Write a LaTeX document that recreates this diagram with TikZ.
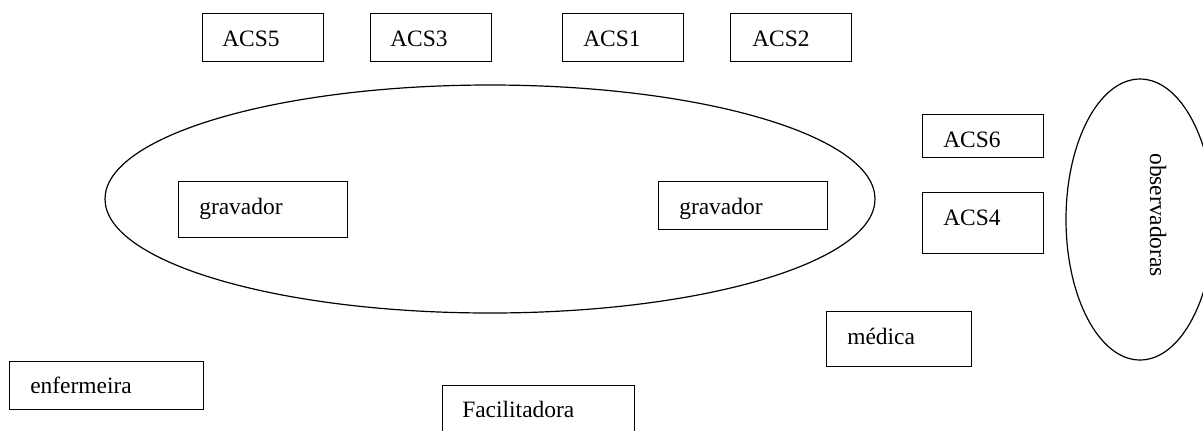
\documentclass[tikz,border=0pt]{standalone}
\usepackage{fontspec}
\setmainfont{Liberation Serif}
\usetikzlibrary{shapes.geometric}
\tikzset{
  box/.style={draw, line width=0.9pt, inner sep=0pt, anchor=north west},
  lbl/.style={anchor=base west, inner sep=0pt, font=\fontsize{17.6}{20}\selectfont},
  oval/.style={draw, ellipse, line width=0.9pt, inner sep=0pt}
}
\begin{document}
\begin{tikzpicture}[x=0.75pt, y=-0.75pt]
\useasboundingbox (0,0) rectangle (1203,430);
\clip (0,0) rectangle (1203,430);
% ellipses
\node[oval, minimum width=770*0.75pt, minimum height=228*0.75pt] (mesa) at (490,199) {};
\node[oval, minimum width=148*0.75pt, minimum height=281*0.75pt] (obs) at (1140,219.5) {};
\node[lbl, rotate=-90] (obst) at (1150,153) {observadoras};
% top row
\node[box, minimum width=121*0.75pt, minimum height=48*0.75pt] (acs5) at (202,13) {};
\node[lbl] (acs5t) at (222,46) {ACS5};
\node[box, minimum width=121*0.75pt, minimum height=48*0.75pt] (acs3) at (370,13) {};
\node[lbl] (acs3t) at (390,46) {ACS3};
\node[box, minimum width=121*0.75pt, minimum height=48*0.75pt] (acs1) at (562,13) {};
\node[lbl] (acs1t) at (583,46) {ACS1};
\node[box, minimum width=121*0.75pt, minimum height=48*0.75pt] (acs2) at (730,13) {};
\node[lbl] (acs2t) at (752,46) {ACS2};
% right column
\node[box, minimum width=121*0.75pt, minimum height=43*0.75pt] (acs6) at (922,114) {};
\node[lbl] (acs6t) at (943,147) {ACS6};
\node[box, minimum width=121*0.75pt, minimum height=61*0.75pt] (acs4) at (922,192) {};
\node[lbl] (acs4t) at (943,225) {ACS4};
% recorders
\node[box, minimum width=169*0.75pt, minimum height=56*0.75pt] (grav1) at (178,181) {};
\node[lbl] (grav1t) at (199,214) {gravador};
\node[box, minimum width=169*0.75pt, minimum height=48*0.75pt] (grav2) at (658,181) {};
\node[lbl] (grav2t) at (679,214) {gravador};
% bottom
\node[box, minimum width=145*0.75pt, minimum height=55*0.75pt] (medica) at (826,311) {};
\node[lbl] (medicat) at (847,344) {médica};
\node[box, minimum width=194*0.75pt, minimum height=48*0.75pt] (enf) at (9,361) {};
\node[lbl] (enft) at (30,393) {enfermeira};
\node[box, minimum width=192*0.75pt, minimum height=60*0.75pt] (facil) at (442,385) {};
\node[lbl] (facilt) at (462,417) {Facilitadora};
\end{tikzpicture}
\end{document}
